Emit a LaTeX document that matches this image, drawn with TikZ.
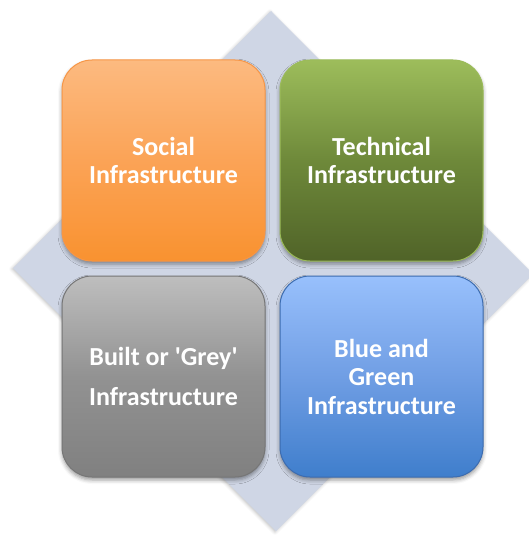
\documentclass[tikz,border=0pt]{standalone}
\usepackage{fontspec}
\setmainfont{Carlito}
\usepackage{tikz}
\usetikzlibrary{positioning, shadows.blur}

\definecolor{diamondbg}{RGB}{207, 214, 229}
\definecolor{socialtop}{RGB}{252, 186, 128}
\definecolor{socialmid}{RGB}{251, 163, 86}
\definecolor{socialbot}{RGB}{249, 146, 48}
\definecolor{socialline}{RGB}{247, 150, 70}
\definecolor{techtop}{RGB}{157, 189, 91}
\definecolor{techmid}{RGB}{110, 137, 58}
\definecolor{techbot}{RGB}{80, 99, 40}
\definecolor{techline}{RGB}{155, 187, 89}
\definecolor{greytop}{RGB}{190, 190, 190}
\definecolor{greymid}{RGB}{146, 146, 146}
\definecolor{greybot}{RGB}{128, 128, 128}
\definecolor{greyline}{RGB}{118, 118, 118}
\definecolor{bluetop}{RGB}{152, 192, 252}
\definecolor{bluemid}{RGB}{112, 158, 228}
\definecolor{bluebot}{RGB}{63, 126, 204}
\definecolor{blueline}{RGB}{60, 108, 176}

\begin{document}
\begin{tikzpicture}[
  x=1pt, y=-1pt,
  infobox/.style={rounded corners=30pt, minimum width=203pt, minimum height=201pt,
    align=center, text=white, line width=1pt, inner sep=0pt,
    font=\bfseries\fontsize{26}{28.5}\selectfont,
    blur shadow={shadow xshift=0pt, shadow yshift=-3pt, shadow opacity=40, shadow blur radius=4pt}},
  node distance=14pt
]
  \useasboundingbox (0,0) rectangle (529,535);
  % background diamond
  \fill[diamondbg, blur shadow={shadow xshift=-1pt, shadow yshift=-1pt, shadow opacity=25, shadow blur radius=3pt}]
    (271,11) -- (533,274) -- (276,531) -- (13,268) -- cycle;

  \node[infobox, draw=socialline, top color=socialtop, bottom color=socialbot, middle color=socialmid]
    (social) at (163.5,160.5) {Social\\Infrastructure};
  \node[infobox, draw=techline, top color=techtop, bottom color=techbot, middle color=techmid,
    right=of social] (technical) {Technical\\Infrastructure};
  \node[infobox, draw=greyline, top color=greytop, bottom color=greybot, middle color=greymid,
    below=of social] (built) {Built or \textquotesingle Grey\textquotesingle\\[11.5pt]Infrastructure};
  \node[infobox, draw=blueline, top color=bluetop, bottom color=bluebot, middle color=bluemid,
    below=of technical] (bluegreen) {Blue and\\Green\\Infrastructure};
\end{tikzpicture}
\end{document}
